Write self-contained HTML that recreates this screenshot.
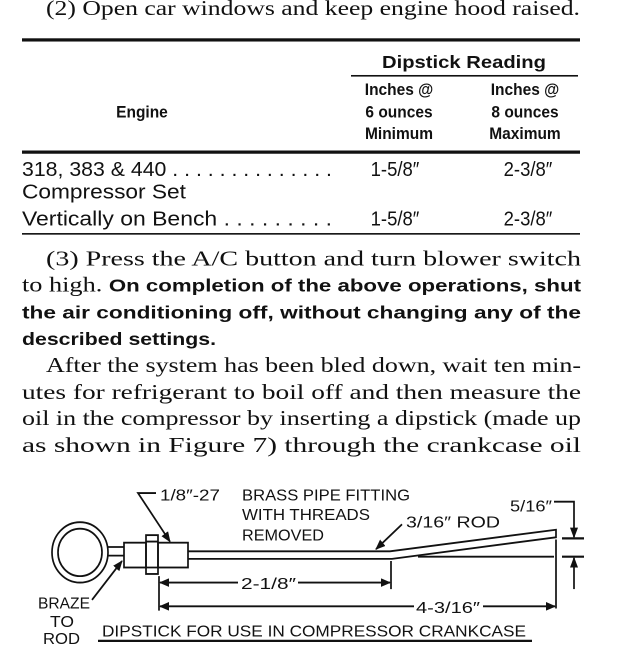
<!DOCTYPE html>
<html><head><meta charset="utf-8"><style>
html,body{margin:0;padding:0;background:#fff;}
svg{display:block;}
.s{font-family:"Liberation Serif",serif;font-size:19.5px;fill:#111;}
.b{font-family:"Liberation Sans",sans-serif;font-weight:bold;font-size:15.5px;fill:#111;}
.n{font-family:"Liberation Sans",sans-serif;font-size:18.5px;fill:#111;}
.l{font-family:"Liberation Sans",sans-serif;font-size:14.5px;fill:#111;}
</style></head><body>
<svg width="621" height="666" viewBox="0 0 621 617.3" preserveAspectRatio="none" xmlns="http://www.w3.org/2000/svg">
<defs><marker id="a" markerWidth="10" markerHeight="8" refX="9" refY="4" orient="auto" markerUnits="userSpaceOnUse"><path d="M0,0 L10,4 L0,8 Z" fill="#111"/></marker></defs>
<text class="s" x="46" y="14" textLength="534" lengthAdjust="spacingAndGlyphs">(2) Open car windows and keep engine hood raised.</text>
<rect x="22" y="35.5" width="558" height="3" fill="#111"/>
<text class="b" style="font-size:16.5px" x="382" y="63" textLength="164" lengthAdjust="spacingAndGlyphs">Dipstick Reading</text>
<rect x="351" y="69.5" width="227" height="1.5" fill="#111"/>
<g class="b" text-anchor="middle">
<text x="399" y="88">Inches @</text><text x="399" y="109">6 ounces</text><text x="399" y="129">Minimum</text>
<text x="525" y="88">Inches @</text><text x="525" y="109">8 ounces</text><text x="525" y="129">Maximum</text>
<text x="142" y="109">Engine</text>
</g>
<rect x="22" y="139.5" width="558" height="3" fill="#111"/>
<text class="n" x="22" y="163" textLength="310" lengthAdjust="spacingAndGlyphs">318, 383 &amp; 440 . . . . . . . . . . . . . .</text>
<text class="n" x="22" y="184" textLength="164" lengthAdjust="spacingAndGlyphs">Compressor Set</text>
<text class="n" x="22" y="209" textLength="310" lengthAdjust="spacingAndGlyphs">Vertically on Bench . . . . . . . . .</text>
<g class="n" text-anchor="middle"><text x="395" y="163">1-5/8″</text><text x="528" y="163">2-3/8″</text><text x="395" y="209">1-5/8″</text><text x="528" y="209">2-3/8″</text></g>
<rect x="22" y="216" width="558" height="1.5" fill="#111"/>
<text class="s" x="46" y="246" textLength="535" lengthAdjust="spacingAndGlyphs">(3) Press the A/C button and turn blower switch</text>
<text class="s" x="22" y="270" textLength="559" lengthAdjust="spacingAndGlyphs">to high. <tspan class="b" style="font-size:16.5px">On completion of the above operations, shut</tspan></text>
<text class="b" style="font-size:16.5px" x="22" y="295" textLength="559" lengthAdjust="spacingAndGlyphs">the air conditioning off, without changing any of the</text>
<text class="b" style="font-size:16.5px" x="22" y="320" textLength="194" lengthAdjust="spacingAndGlyphs">described settings.</text>
<text class="s" x="46" y="345" textLength="535" lengthAdjust="spacingAndGlyphs">After the system has been bled down, wait ten min-</text>
<text class="s" x="22" y="370" textLength="559" lengthAdjust="spacingAndGlyphs">utes for refrigerant to boil off and then measure the</text>
<text class="s" x="22" y="394" textLength="559" lengthAdjust="spacingAndGlyphs">oil in the compressor by inserting a dipstick (made up</text>
<text class="s" x="22" y="419" textLength="559" lengthAdjust="spacingAndGlyphs">as shown in Figure 7) through the crankcase oil</text>
<g fill="none" stroke="#111" stroke-width="1.7">
<circle cx="80" cy="512" r="28"/><circle cx="80" cy="512" r="22"/>
<path d="M107,507 H124 M107,515 H124"/>
<rect x="124" y="503" width="22" height="23"/>
<rect x="146" y="496" width="12" height="36"/>
<path d="M146,502 H158 M146,526 H158"/>
<rect x="158" y="503" width="30" height="23"/>
<path d="M188,511 H390 L556,491 L556,498 L392,518 H188"/>
<path d="M418,516 H554"/>
<path d="M159,534 V566 M391,520 V546 M556,500 V564"/>
<path d="M562,499 H584 M562,516 H584" stroke-width="2"/>
<path d="M554,465 H574 V498" marker-end="url(#a)"/>
<path d="M574,546 V517" marker-end="url(#a)"/>
<path d="M238,540 H160" marker-end="url(#a)"/>
<path d="M298,540 H390" marker-end="url(#a)"/>
<path d="M414,562 H160" marker-end="url(#a)"/>
<path d="M483,562 H555" marker-end="url(#a)"/>
<path d="M156,457 H138 L170,502" marker-end="url(#a)"/>
<path d="M402,486 L376,509" marker-end="url(#a)"/>
<path d="M92,556 L122,520" marker-end="url(#a)"/>
<path d="M98,594 H532" stroke-width="2"/>
</g>
<text class="l" x="160" y="464" textLength="60" lengthAdjust="spacingAndGlyphs">1/8″-27</text>
<text class="l" x="242" y="464" textLength="168" lengthAdjust="spacingAndGlyphs">BRASS PIPE FITTING</text>
<text class="l" x="242" y="482" textLength="128" lengthAdjust="spacingAndGlyphs">WITH THREADS</text>
<text class="l" x="242" y="501" textLength="82" lengthAdjust="spacingAndGlyphs">REMOVED</text>
<text class="l" x="406" y="489" textLength="94" lengthAdjust="spacingAndGlyphs">3/16″ ROD</text>
<text class="l" x="510" y="474" textLength="42" lengthAdjust="spacingAndGlyphs">5/16″</text>
<text class="l" x="241" y="546" textLength="55" lengthAdjust="spacingAndGlyphs">2-1/8″</text>
<text class="l" x="416" y="568" textLength="64" lengthAdjust="spacingAndGlyphs">4-3/16″</text>
<text class="l" x="38" y="564" textLength="52" lengthAdjust="spacingAndGlyphs">BRAZE</text>
<text class="l" x="50" y="581" textLength="24" lengthAdjust="spacingAndGlyphs">TO</text>
<text class="l" x="43" y="597" textLength="37" lengthAdjust="spacingAndGlyphs">ROD</text>
<text class="l" x="102" y="590" textLength="424" lengthAdjust="spacingAndGlyphs">DIPSTICK FOR USE IN COMPRESSOR CRANKCASE</text>
</svg>
</body></html>
